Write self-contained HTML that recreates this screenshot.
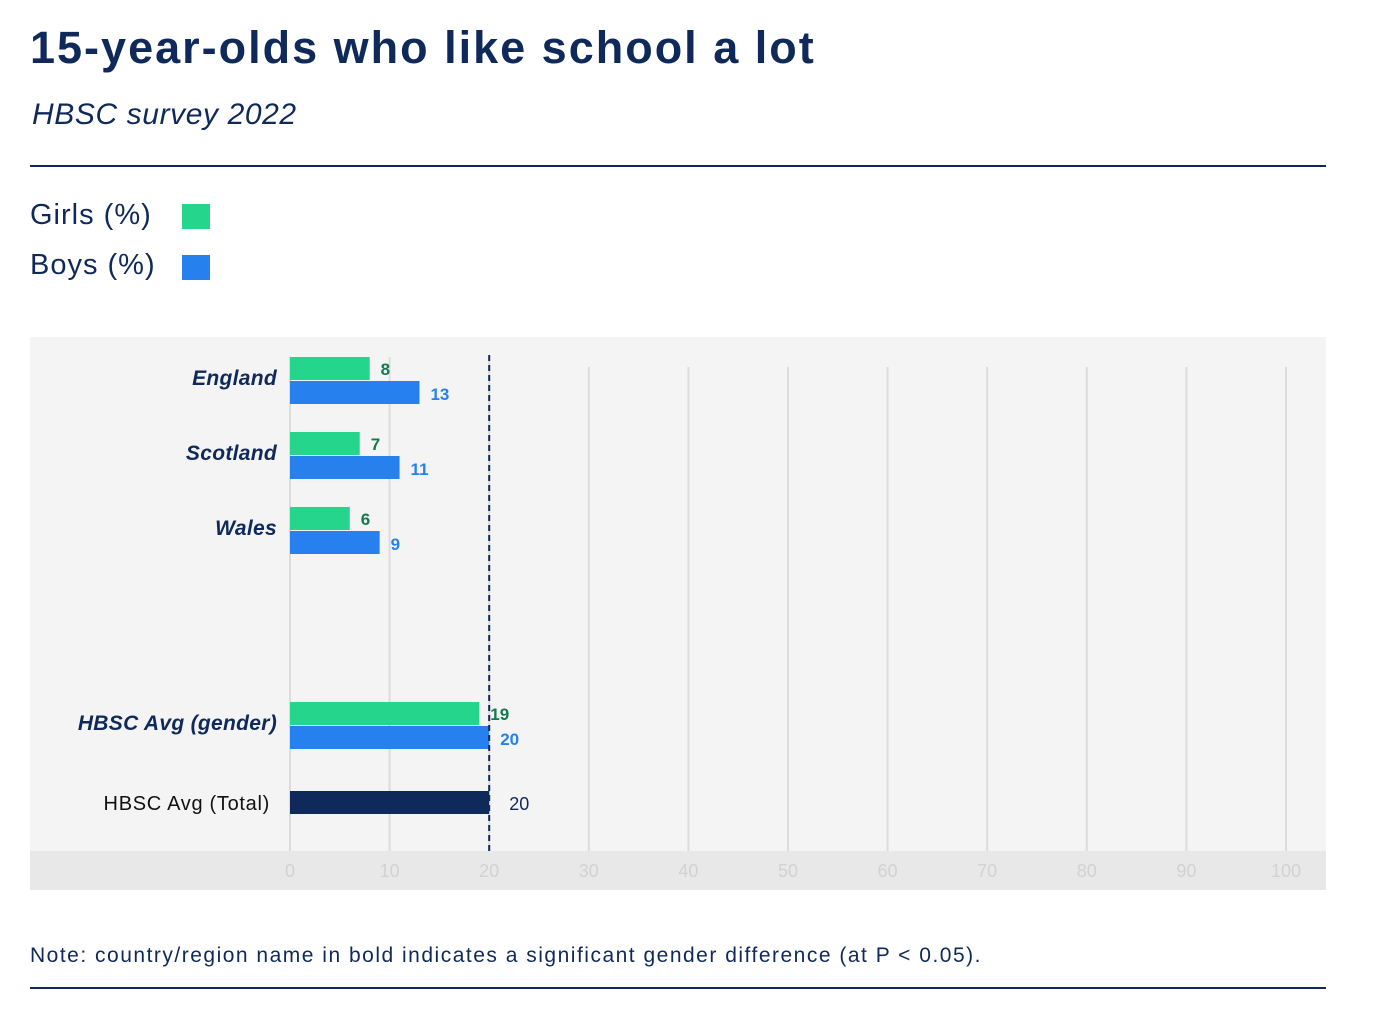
<!DOCTYPE html>
<html><head><meta charset="utf-8"><style>
body{margin:0;width:1376px;height:1024px;background:#fff;font-family:"Liberation Sans",sans-serif;color:#0f2a5a;position:relative;overflow:hidden}
.abs{position:absolute}
</style></head><body>
<div class="abs" style="left:30px;top:22px;font-size:45px;font-weight:bold;letter-spacing:2px">15-year-olds who like school a lot</div>
<div class="abs" style="left:32px;top:98px;font-size:30px;font-style:italic;letter-spacing:0.6px">HBSC survey 2022</div>
<div class="abs" style="left:30px;top:165px;width:1296px;height:2px;background:#0f2a5a"></div>
<div class="abs" style="left:30px;top:199px;font-size:29px;letter-spacing:1px">Girls (%)</div>
<div class="abs" style="left:182px;top:204px;width:28px;height:25px;background:#25d58c"></div>
<div class="abs" style="left:30px;top:249px;font-size:29px;letter-spacing:1px">Boys (%)</div>
<div class="abs" style="left:182px;top:255px;width:28px;height:25px;background:#2680ee"></div>
<svg class="abs" style="left:0;top:0" width="1376" height="1024">
<rect x="30" y="337" width="1296" height="553" fill="#f4f4f4"/>
<rect x="30" y="851" width="1296" height="39" fill="#e8e8e8"/>
<g id="grid"></g><g id="bars"></g>
</svg>
<div class="abs" style="left:30px;top:944px;font-size:21px;letter-spacing:1.5px">Note: country/region name in bold indicates a significant gender difference (at P &lt; 0.05).</div>
<div class="abs" style="left:30px;top:987px;width:1296px;height:2px;background:#0f2a5a"></div>
<script>
const categories=["England","Scotland","Wales","HBSC Avg (gender)"];
const girls=[8,7,6,19];
const boys=[13,11,9,20];
const totalLabel="HBSC Avg (Total)";
const totalValue=[20];
const ticks=[0,10,20,30,40,50,60,70,80,90,100];
const avgLine=20;
const NS="http://www.w3.org/2000/svg";
const x=v=>290+v*9.96;
const catTop=[357,432,507,702];
const g=document.getElementById('grid'),b=document.getElementById('bars');
function mk(p,tag,attrs,txt){const e=document.createElementNS(NS,tag);for(const k in attrs)e.setAttribute(k,attrs[k]);if(txt!==undefined)e.textContent=txt;p.appendChild(e);return e;}
ticks.forEach(t=>{
 const l=mk(g,'line',{x1:x(t),x2:x(t),y1:t<30?357:367,y2:851,stroke:'#dcdcdc','stroke-width':2});
 
 
 const tx=mk(g,'text',{x:x(t),y:877,'text-anchor':'middle','font-size':18,fill:'#d2d2d2','font-family':'Liberation Sans'},t);
 
 
});
categories.forEach((c,i)=>{
 const y=catTop[i];
 const lab=mk(b,'text',{x:277,y:y+28,'text-anchor':'end','font-size':21,'font-weight':'bold','font-style':'italic',fill:'#0f2a5a','font-family':'Liberation Sans','letter-spacing':0.3},c);
 
 
 const r1=mk(b,'rect',{x:x(0),y:y,width:x(girls[i])-x(0),height:23,fill:'#25d58c'});
 
 
 const r2=mk(b,'rect',{x:x(0),y:y+24,width:x(boys[i])-x(0),height:23,fill:'#2680ee'});
 
 
 const v1=mk(b,'text',{x:x(girls[i])+11,y:y+18,'font-size':17,'font-weight':'bold',fill:'#137a4e','font-family':'Liberation Sans'},girls[i]);
 
 
 const v2=mk(b,'text',{x:x(boys[i])+11,y:y+43,'font-size':17,'font-weight':'bold',fill:'#2680ee','font-family':'Liberation Sans'},boys[i]);
 
 
});
const tl=mk(b,'text',{x:270,y:810,'text-anchor':'end','font-size':20,fill:'#111','font-family':'Liberation Sans','letter-spacing':0.7},totalLabel);


const tr=mk(b,'rect',{x:x(0),y:791,width:x(totalValue[0])-x(0),height:23,fill:'#0f2a5a'});


const tv=mk(b,'text',{x:x(totalValue[0])+20,y:810,'font-size':18,fill:'#0f2a5a','font-family':'Liberation Sans'},totalValue[0]);


const dl=mk(b,'line',{x1:x(avgLine),x2:x(avgLine),y1:355,y2:851,stroke:'#0f2a5a','stroke-width':2,'stroke-dasharray':'6,4'});


</script>
</body></html>
